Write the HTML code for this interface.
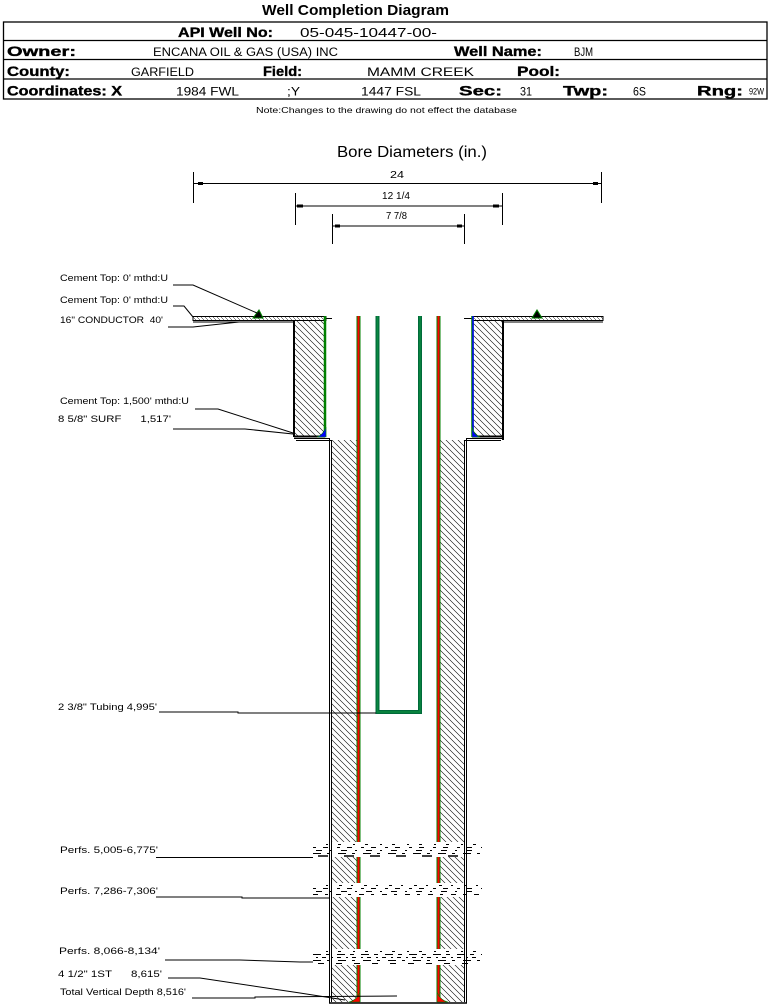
<!DOCTYPE html>
<html><head><meta charset="utf-8"><style>
html,body{margin:0;padding:0;background:#fff;}
svg{display:block;}
text{font-family:"Liberation Sans",Arial,sans-serif;fill:#000;}
.b{font-weight:bold;stroke:#000;stroke-width:0.35;}
.s{font-size:9.5px;}
</style></head><body>
<svg width="769" height="1005" viewBox="0 0 769 1005" xmlns="http://www.w3.org/2000/svg">
<defs>
<pattern id="h" width="6" height="6" patternUnits="userSpaceOnUse">
<path d="M-1,-1 L7,7 M-1,5 L1,7 M5,-1 L7,1" stroke="#000" stroke-width="0.6"/>
</pattern>
<pattern id="hs" width="4" height="4" patternUnits="userSpaceOnUse">
<path d="M0,0 L4,4" stroke="#000" stroke-width="0.5"/>
</pattern>
</defs>
<rect width="769" height="1005" fill="#fff"/>

<!-- Title -->
<text x="262" y="15" font-size="15" font-weight="bold" textLength="187" lengthAdjust="spacingAndGlyphs">Well Completion Diagram</text>

<!-- Header table -->
<g stroke="#000" stroke-width="1.3" fill="none">
<rect x="3.5" y="22" width="763.5" height="77"/>
<line x1="3.5" y1="40.5" x2="767" y2="40.5"/>
<line x1="3.5" y1="59.5" x2="767" y2="59.5"/>
<line x1="3.5" y1="79" x2="767" y2="79"/>
</g>
<text class="b" x="178" y="37" font-size="13.5" textLength="95" lengthAdjust="spacingAndGlyphs">API Well No:</text>
<text x="300" y="37" font-size="13" textLength="137" lengthAdjust="spacingAndGlyphs">05-045-10447-00-</text>

<text class="b" x="7" y="56" font-size="13.5" textLength="69" lengthAdjust="spacingAndGlyphs">Owner:</text>
<text x="153" y="56" font-size="11.5" textLength="185" lengthAdjust="spacingAndGlyphs">ENCANA OIL &amp; GAS (USA) INC</text>
<text class="b" x="454" y="56" font-size="13.5" textLength="88" lengthAdjust="spacingAndGlyphs">Well Name:</text>
<text x="574" y="56" font-size="11.5" textLength="19" lengthAdjust="spacingAndGlyphs">BJM</text>

<text class="b" x="7" y="76" font-size="13.5" textLength="63" lengthAdjust="spacingAndGlyphs">County:</text>
<text x="131" y="76" font-size="11.5" textLength="63" lengthAdjust="spacingAndGlyphs">GARFIELD</text>
<text class="b" x="263" y="76" font-size="13.5" textLength="39" lengthAdjust="spacingAndGlyphs">Field:</text>
<text x="367" y="76" font-size="11.5" textLength="107" lengthAdjust="spacingAndGlyphs">MAMM CREEK</text>
<text class="b" x="517" y="76" font-size="13.5" textLength="43" lengthAdjust="spacingAndGlyphs">Pool:</text>

<text class="b" x="7" y="95.5" font-size="13.5" textLength="115" lengthAdjust="spacingAndGlyphs">Coordinates: X</text>
<text x="176" y="95.5" font-size="11.5" textLength="63" lengthAdjust="spacingAndGlyphs">1984 FWL</text>
<text x="287" y="95.5" font-size="11.5" textLength="13" lengthAdjust="spacingAndGlyphs">;Y</text>
<text x="361" y="95.5" font-size="11.5" textLength="60" lengthAdjust="spacingAndGlyphs">1447 FSL</text>
<text class="b" x="459" y="95.5" font-size="13.5" textLength="43" lengthAdjust="spacingAndGlyphs">Sec:</text>
<text x="520" y="95.5" font-size="11.5" textLength="12" lengthAdjust="spacingAndGlyphs">31</text>
<text class="b" x="563" y="95.5" font-size="13.5" textLength="45" lengthAdjust="spacingAndGlyphs">Twp:</text>
<text x="633" y="95.5" font-size="11.5" textLength="13" lengthAdjust="spacingAndGlyphs">6S</text>
<text class="b" x="697" y="95.5" font-size="13.5" textLength="46" lengthAdjust="spacingAndGlyphs">Rng:</text>
<text x="749" y="94.5" font-size="9" textLength="15" lengthAdjust="spacingAndGlyphs">92W</text>

<text x="256" y="113" font-size="8.5" textLength="261" lengthAdjust="spacingAndGlyphs">Note:Changes to the drawing do not effect the database</text>

<!-- Bore diameters -->
<text x="337" y="157" font-size="15.5" textLength="150" lengthAdjust="spacingAndGlyphs">Bore Diameters (in.)</text>
<g stroke="#000" stroke-width="1" fill="none">
<line x1="193.5" y1="172" x2="193.5" y2="203"/>
<line x1="601.5" y1="172" x2="601.5" y2="203"/>
<line x1="194" y1="183.5" x2="601" y2="183.5"/>
<line x1="295.5" y1="193" x2="295.5" y2="225"/>
<line x1="502.5" y1="193" x2="502.5" y2="225"/>
<line x1="296" y1="206" x2="502" y2="206"/>
<line x1="332.5" y1="214" x2="332.5" y2="244"/>
<line x1="464.5" y1="214" x2="464.5" y2="244"/>
<line x1="333" y1="226" x2="464" y2="226"/>
</g>
<g fill="#000">
<rect x="198" y="182" width="5" height="3"/><rect x="593" y="182" width="5" height="3"/>
<rect x="297" y="204.5" width="6" height="3"/><rect x="493" y="204.5" width="6" height="3"/>
<rect x="335" y="224.5" width="5" height="3"/><rect x="457" y="224.5" width="5" height="3"/>
</g>
<text x="390" y="178" font-size="10" textLength="14" lengthAdjust="spacingAndGlyphs">24</text>
<text x="382" y="199" font-size="10" textLength="28" lengthAdjust="spacingAndGlyphs">12 1/4</text>
<text x="386" y="219" font-size="10" textLength="21" lengthAdjust="spacingAndGlyphs">7 7/8</text>

<!-- Hatched areas -->
<rect x="295" y="321" width="30" height="115" fill="url(#h)"/>
<rect x="473" y="321" width="30" height="115" fill="url(#h)"/>
<rect x="331" y="440" width="27" height="562" fill="url(#h)"/>
<rect x="439" y="440" width="26" height="562" fill="url(#h)"/>

<!-- surface strips -->
<rect x="193" y="316.5" width="133" height="4" fill="url(#hs)" stroke="#000" stroke-width="1"/>
<rect x="472" y="316.5" width="131" height="4" fill="url(#hs)" stroke="#000" stroke-width="1"/>
<line x1="193" y1="322" x2="295" y2="322" stroke="#000" stroke-width="1"/>
<line x1="503" y1="322" x2="603" y2="322" stroke="#000" stroke-width="1"/>
<line x1="325" y1="318.5" x2="332" y2="318.5" stroke="#000" stroke-width="1"/>
<line x1="464" y1="318.5" x2="472" y2="318.5" stroke="#000" stroke-width="1"/>

<!-- conductor box -->
<g stroke="#000" fill="none">
<line x1="294" y1="321" x2="294" y2="437" stroke-width="2"/>
<line x1="503" y1="321" x2="503" y2="440" stroke-width="2"/>
<line x1="294" y1="436.5" x2="325" y2="436.5" stroke-width="2"/>
<line x1="472" y1="436.5" x2="503" y2="436.5" stroke-width="2"/>
<path d="M294,438.5 H329.5 V1003" stroke-width="1"/>
<path d="M296,440.5 H331.5 V1002" stroke-width="1"/>
<path d="M503,438.5 H466.5 V1003" stroke-width="1"/>
<path d="M501,440.5 H464.5 V1002" stroke-width="1"/>
<line x1="329" y1="1003" x2="467" y2="1003" stroke-width="1.5"/>
</g>

<!-- conductor casing -->
<line x1="325" y1="316" x2="325" y2="437" stroke="#008000" stroke-width="2.5"/>
<line x1="472.5" y1="316" x2="472.5" y2="437" stroke="#008000" stroke-width="2.5"/>
<line x1="473" y1="316" x2="473" y2="437" stroke="#0000ff" stroke-width="1.5"/>
<path d="M317,437 Q323,435 326,427 L326,437 Z" fill="#0000ff" stroke="#008000" stroke-width="0.6"/>
<path d="M472,427 Q474,435 480,437 L472,437 Z" fill="#0000ff" stroke="#008000" stroke-width="0.6"/>

<!-- production casing (red) -->
<line x1="358.5" y1="316" x2="358.5" y2="1002" stroke="#008000" stroke-width="4"/>
<line x1="358.5" y1="316" x2="358.5" y2="1002" stroke="#ff0000" stroke-width="2"/>
<line x1="438.5" y1="316" x2="438.5" y2="1002" stroke="#008000" stroke-width="4"/>
<line x1="438.5" y1="316" x2="438.5" y2="1002" stroke="#ff0000" stroke-width="2"/>
<path d="M349,1002 Q357,1000 360,992 L360,1002 Z" fill="#ff0000" stroke="#008000" stroke-width="0.6"/>
<path d="M437,992 Q440,1000 448,1002 L437,1002 Z" fill="#ff0000" stroke="#008000" stroke-width="0.6"/>

<!-- tubing -->
<path d="M377.5,316 V712 H420 V316" fill="none" stroke="#006a3a" stroke-width="4"/>
<path d="M377.5,316 V712 H420 V316" fill="none" stroke="#0a8a40" stroke-width="1.5"/>

<!-- cement top markers -->
<path d="M253,318 L259,310 L263,318 Z" fill="#000" stroke="#008000" stroke-width="1"/>
<path d="M532,318 L537,310 L542,318 Z" fill="#000" stroke="#008000" stroke-width="1"/>

<!-- perforations -->
<g>
<rect x="313" y="842" width="170" height="15" fill="#fff"/>
<rect x="313" y="883" width="170" height="14" fill="#fff"/>
<rect x="313" y="949" width="170" height="16" fill="#fff"/>
</g>
<g stroke="#000" fill="none" stroke-width="1">
<line x1="326" y1="844.5" x2="482" y2="844.5" stroke-dasharray="2 10 3 12"/>
<line x1="313" y1="847.5" x2="482" y2="847.5" stroke-dasharray="3 7 5 9"/>
<line x1="316" y1="850.5" x2="480" y2="850.5" stroke-dasharray="6 8 2 9"/>
<line x1="313" y1="853.5" x2="482" y2="853.5" stroke-dasharray="8 6 3 8"/>
<line x1="318" y1="856" x2="470" y2="856" stroke-dasharray="10 16" stroke-width="1.5"/>

<line x1="326" y1="885.5" x2="482" y2="885.5" stroke-dasharray="2 11 3 9"/>
<line x1="313" y1="888.5" x2="482" y2="888.5" stroke-dasharray="3 7 5 9"/>
<line x1="316" y1="891.5" x2="480" y2="891.5" stroke-dasharray="6 8 2 9"/>
<line x1="313" y1="894.5" x2="482" y2="894.5" stroke-dasharray="5 7 3 8"/>

<line x1="326" y1="951.5" x2="482" y2="951.5" stroke-dasharray="2 10 3 12"/>
<line x1="313" y1="954.5" x2="482" y2="954.5" stroke-dasharray="8 5 4 7"/>
<line x1="316" y1="957.5" x2="480" y2="957.5" stroke-dasharray="2 4 4 5"/>
<line x1="313" y1="960.5" x2="482" y2="960.5" stroke-dasharray="8 6 3 8"/>
<line x1="318" y1="963.5" x2="470" y2="963.5" stroke-dasharray="6 12"/>
</g>
<!-- redraw outer bore lines through perfs -->
<g stroke="#000" stroke-width="1">
<line x1="329.5" y1="840" x2="329.5" y2="970"/>
<line x1="331.5" y1="840" x2="331.5" y2="970"/>
<line x1="466.5" y1="840" x2="466.5" y2="970"/>
<line x1="464.5" y1="840" x2="464.5" y2="970"/>
</g>

<!-- leaders -->
<g stroke="#000" stroke-width="1" fill="none">
<polyline points="173,285 193,285 257,313"/>
<polyline points="173,306 184,306 193,317"/>
<polyline points="168,327 193,327 239,322"/>
<polyline points="195,409 218,409 293,433"/>
<polyline points="173,429 245,429 293,434"/>
<polyline points="159,712 238,712 238,713 376,713"/>
<polyline points="156,857.5 313,857.5"/>
<polyline points="156,897 242,897 242,898 330,898"/>
<polyline points="165,960 240,960 300,962 313,962"/>
<polyline points="168,978 200,978 300,993 345,1000"/>
<polyline points="192,998 255,998 255,997 397,996"/>
</g>

<!-- labels -->
<text class="s" x="60" y="281" textLength="108" lengthAdjust="spacingAndGlyphs">Cement Top: 0' mthd:U</text>
<text class="s" x="60" y="303" textLength="108" lengthAdjust="spacingAndGlyphs">Cement Top: 0' mthd:U</text>
<text class="s" x="60" y="323" textLength="103" lengthAdjust="spacingAndGlyphs" xml:space="preserve">16" CONDUCTOR  40'</text>
<text class="s" x="60" y="404" textLength="129" lengthAdjust="spacingAndGlyphs">Cement Top: 1,500' mthd:U</text>
<text class="s" x="58" y="422" textLength="113" lengthAdjust="spacingAndGlyphs" xml:space="preserve">8 5/8" SURF      1,517'</text>
<text class="s" x="58" y="710" textLength="99" lengthAdjust="spacingAndGlyphs">2 3/8" Tubing 4,995'</text>
<text class="s" x="60" y="853" textLength="98" lengthAdjust="spacingAndGlyphs">Perfs. 5,005-6,775'</text>
<text class="s" x="60" y="894" textLength="98" lengthAdjust="spacingAndGlyphs">Perfs. 7,286-7,306'</text>
<text class="s" x="59" y="954" textLength="101" lengthAdjust="spacingAndGlyphs">Perfs. 8,066-8,134'</text>
<text class="s" x="58" y="977" textLength="104" lengthAdjust="spacingAndGlyphs" xml:space="preserve">4 1/2" 1ST      8,615'</text>
<text class="s" x="60" y="995" textLength="126" lengthAdjust="spacingAndGlyphs">Total Vertical Depth 8,516'</text>
</svg>
</body></html>
